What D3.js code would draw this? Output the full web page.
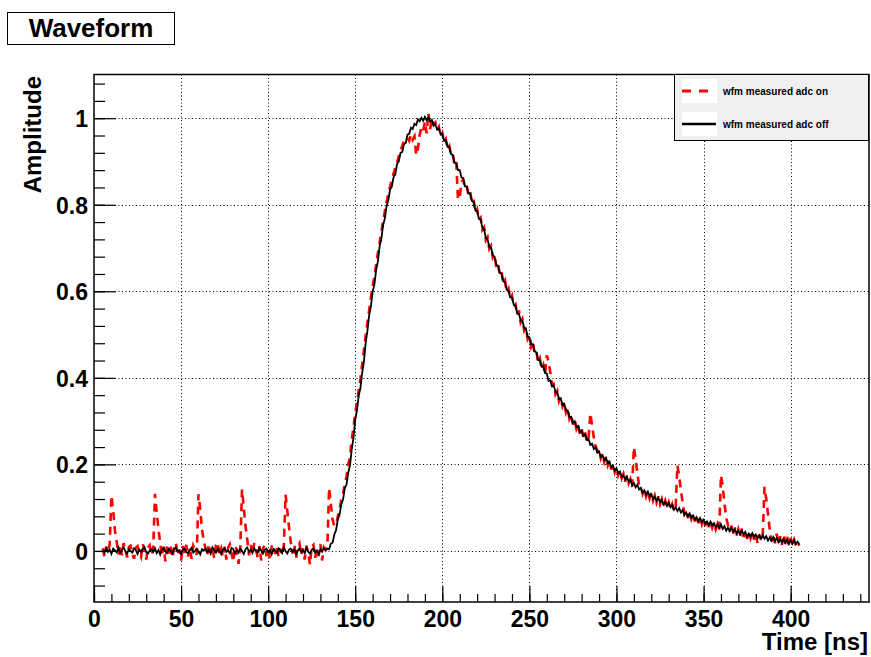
<!DOCTYPE html>
<html>
<head>
<meta charset="utf-8">
<script src="https://cdn.jsdelivr.net/npm/d3@7"></script>
<style>
  body { margin: 0; background: #fff; }
  text { font-family: "Liberation Sans", Arial, Helvetica, sans-serif; font-weight: bold; }
</style>
</head>
<body>
<div id="chart"></div>
<script>
// waveform samples, 1 ns apart, first sample at 5 ns
var sampleStart = 5;
var sampleStep = 1;

// "wfm measured adc off" (black)
var adcOff = [
  0.002, -0.004, 0.006, -0.002, 0.003, -0.007, 0.005, 0.001, -0.003, 0.007,   // 5
  -0.005, 0.002, 0.008, -0.001, -0.006, 0.004, 0.000, -0.004, 0.006, 0.002,   // 15
  -0.007, 0.003, -0.002, 0.005, 0.009, -0.003, -0.006, 0.001, 0.004, -0.002,  // 25
  0.006, -0.005, 0.002, -0.008, 0.003, 0.007, -0.001, -0.004, 0.005, 0.000,   // 35
  -0.006, 0.004, 0.008, -0.002, 0.001, -0.007, 0.003, 0.006, -0.003, -0.005,  // 45
  0.002, 0.007, -0.004, 0.000, 0.005, -0.002, -0.008, 0.004, 0.001, 0.006,    // 55
  -0.003, 0.003, -0.006, 0.008, 0.002, -0.004, 0.005, -0.001, -0.007, 0.003,  // 65
  0.006, -0.002, 0.001, -0.005, 0.007, 0.004, -0.006, 0.002, -0.003, 0.005,   // 75
  0.000, -0.007, 0.004, 0.008, -0.002, 0.003, -0.005, 0.006, -0.001, -0.004,  // 85
  0.007, 0.001, -0.006, 0.003, 0.005, -0.003, 0.002, -0.008, 0.004, 0.000,    // 95
  -0.004, 0.006, 0.002, -0.005, 0.008, -0.001, -0.006, 0.003, 0.005, -0.002,  // 105
  0.004, -0.007, 0.001, 0.006, -0.003, 0.002, -0.005, 0.007, -0.002, -0.006,  // 115
  0.003, 0.005, -0.004, 0.001, -0.007, 0.004, -0.002, 0.006, 0.002,           // 125
  0.005, 0.004, 0.017, 0.019, 0.038, 0.048, 0.073, 0.084, 0.108, 0.119,      // 134
  0.145, 0.154, 0.181, 0.198, 0.236, 0.261, 0.303, 0.325, 0.359, 0.377,      // 144
  0.412, 0.438, 0.481, 0.509, 0.545, 0.565, 0.599, 0.616, 0.649, 0.669,      // 154
  0.704, 0.721, 0.753, 0.768, 0.797, 0.811, 0.835, 0.842, 0.864, 0.870,      // 164
  0.894, 0.900, 0.920, 0.922, 0.940, 0.943, 0.962, 0.964, 0.978, 0.975,      // 174
  0.987, 0.984, 0.997, 0.993, 1.001, 0.994, 1.003, 0.995, 1.002, 0.992,      // 184
  0.996, 0.983, 0.986, 0.974, 0.977, 0.963, 0.964, 0.948, 0.949, 0.934,      // 194
  0.934, 0.917, 0.915, 0.897, 0.896, 0.880, 0.880, 0.863, 0.861, 0.843,      // 204
  0.842, 0.826, 0.826, 0.809, 0.806, 0.787, 0.785, 0.768, 0.766, 0.747,      // 214
  0.743, 0.723, 0.720, 0.702, 0.701, 0.683, 0.680, 0.661, 0.659, 0.642,      // 224
  0.641, 0.623, 0.621, 0.603, 0.602, 0.586, 0.586, 0.569, 0.567, 0.549,      // 234
  0.548, 0.532, 0.532, 0.515, 0.513, 0.495, 0.494, 0.478, 0.478, 0.461,      // 244
  0.459, 0.441, 0.441, 0.426, 0.427, 0.411, 0.410, 0.393, 0.394, 0.380,      // 254
  0.382, 0.367, 0.367, 0.351, 0.352, 0.338, 0.340, 0.325, 0.325, 0.309,      // 264
  0.310, 0.296, 0.300, 0.287, 0.289, 0.275, 0.278, 0.266, 0.270, 0.257,      // 274
  0.259, 0.245, 0.248, 0.236, 0.240, 0.227, 0.230, 0.217, 0.221, 0.210,      // 284
  0.215, 0.203, 0.206, 0.193, 0.197, 0.186, 0.191, 0.179, 0.183, 0.171,      // 294
  0.175, 0.165, 0.171, 0.160, 0.164, 0.152, 0.157, 0.147, 0.153, 0.142,      // 304
  0.146, 0.135, 0.140, 0.130, 0.137, 0.126, 0.131, 0.120, 0.125, 0.116,      // 314
  0.123, 0.113, 0.118, 0.107, 0.113, 0.104, 0.111, 0.101, 0.106, 0.095,      // 324
  0.101, 0.092, 0.099, 0.089, 0.094, 0.083, 0.089, 0.080, 0.087, 0.077,      // 334
  0.082, 0.072, 0.078, 0.069, 0.076, 0.067, 0.072, 0.062, 0.068, 0.060,      // 344
  0.068, 0.059, 0.064, 0.054, 0.061, 0.053, 0.061, 0.051, 0.057, 0.047,      // 354
  0.054, 0.046, 0.054, 0.044, 0.050, 0.040, 0.047, 0.039, 0.047, 0.038,      // 364
  0.044, 0.033, 0.040, 0.033, 0.041, 0.032, 0.038, 0.029, 0.036, 0.028,      // 374
  0.036, 0.028, 0.034, 0.024, 0.031, 0.024, 0.032, 0.023, 0.030, 0.020,      // 384
  0.027, 0.020, 0.028, 0.019, 0.026, 0.016, 0.024, 0.016, 0.025, 0.016,      // 394
  0.021, 0.015                                                                // 404
];

// "wfm measured adc on" (red dashed)
var adcOn = [
  0.006, -0.012, 0.010, -0.004, 0.015, 0.128, 0.094, 0.048, 0.022, -0.008,   // 5
  0.014, -0.010, 0.018, 0.003, -0.015, 0.009, 0.012, -0.006, -0.018, 0.007,  // 15
  0.011, -0.004, -0.014, 0.016, 0.002, -0.020, 0.008, 0.013, -0.009, 0.004,  // 25
  0.132, 0.088, 0.052, 0.018, -0.012, 0.010, -0.024, 0.015, -0.006, 0.012,  // 35
  -0.016, 0.006, 0.019, -0.010, 0.003, -0.022, 0.011, -0.005, 0.014, -0.013, // 45
  0.008, -0.018, 0.012, 0.002, -0.009, 0.131, 0.096, 0.050, 0.024, 0.006,   // 55
  -0.011, 0.016, -0.004, 0.009, -0.017, 0.013, 0.020, -0.008, 0.005, -0.014, // 65
  0.010, -0.020, 0.007, 0.015, -0.006, -0.025, 0.012, 0.003, -0.030, 0.009,  // 75
  0.142, 0.100, 0.058, 0.026, -0.010, 0.014, -0.008, 0.018, 0.004, -0.016,   // 85
  0.011, -0.022, 0.006, 0.013, -0.012, 0.004, -0.018, 0.010, 0.016, -0.007,  // 95
  0.009, -0.014, 0.005, -0.009, 0.012, 0.130, 0.092, 0.054, 0.020, -0.006,   // 105
  0.015, -0.018, 0.008, 0.017, -0.010, 0.006, -0.020, 0.012, -0.004, -0.032, // 115
  0.010, 0.014, -0.016, 0.004, -0.012, 0.016, -0.022, 0.008, 0.002,          // 125
  0.010, 0.146, 0.108, 0.072, 0.058, 0.062, 0.080, 0.095, 0.118, 0.132,      // 134
  0.155, 0.172, 0.200, 0.218, 0.258, 0.285, 0.318, 0.342, 0.372, 0.398,      // 144
  0.432, 0.465, 0.497, 0.528, 0.556, 0.586, 0.612, 0.634, 0.662, 0.688,      // 154
  0.712, 0.738, 0.763, 0.785, 0.806, 0.825, 0.842, 0.858, 0.872, 0.885,      // 164
  0.898, 0.911, 0.928, 0.935, 0.948, 0.952, 0.955, 0.948, 0.962, 0.950,      // 174
  0.958, 0.915, 0.930, 0.962, 0.978, 0.970, 0.992, 0.965, 1.012, 0.975,      // 184
  0.998, 0.985, 0.990, 0.972, 0.980, 0.958, 0.966, 0.945, 0.952, 0.930,      // 194
  0.936, 0.915, 0.918, 0.892, 0.900, 0.812, 0.818, 0.852, 0.858, 0.840,      // 204
  0.845, 0.822, 0.830, 0.805, 0.812, 0.782, 0.790, 0.765, 0.770, 0.742,      // 214
  0.748, 0.718, 0.725, 0.698, 0.705, 0.678, 0.685, 0.655, 0.664, 0.638,      // 224
  0.645, 0.618, 0.625, 0.598, 0.606, 0.582, 0.590, 0.565, 0.570, 0.545,      // 234
  0.556, 0.528, 0.536, 0.510, 0.518, 0.490, 0.498, 0.472, 0.482, 0.456,      // 244
  0.462, 0.436, 0.445, 0.420, 0.430, 0.408, 0.452, 0.438, 0.412, 0.384,      // 254
  0.386, 0.362, 0.370, 0.346, 0.356, 0.334, 0.344, 0.320, 0.330, 0.305,      // 264
  0.314, 0.292, 0.304, 0.282, 0.292, 0.270, 0.282, 0.262, 0.274, 0.252,      // 274
  0.262, 0.318, 0.290, 0.262, 0.242, 0.232, 0.234, 0.214, 0.225, 0.206,      // 284
  0.218, 0.198, 0.210, 0.188, 0.200, 0.182, 0.194, 0.175, 0.186, 0.168,      // 294
  0.178, 0.160, 0.174, 0.156, 0.166, 0.148, 0.240, 0.212, 0.180, 0.150,      // 304
  0.148, 0.132, 0.143, 0.126, 0.139, 0.122, 0.134, 0.116, 0.128, 0.112,      // 314
  0.126, 0.108, 0.120, 0.104, 0.116, 0.100, 0.112, 0.096, 0.108, 0.092,      // 324
  0.104, 0.198, 0.172, 0.140, 0.112, 0.086, 0.094, 0.076, 0.090, 0.074,      // 334
  0.086, 0.068, 0.082, 0.064, 0.078, 0.062, 0.076, 0.058, 0.072, 0.055,      // 344
  0.070, 0.054, 0.066, 0.050, 0.062, 0.048, 0.175, 0.150, 0.110, 0.078,      // 354
  0.060, 0.044, 0.058, 0.040, 0.054, 0.036, 0.050, 0.034, 0.052, 0.032,      // 364
  0.048, 0.028, 0.044, 0.030, 0.046, 0.026, 0.040, 0.018, 0.038, 0.024,      // 374
  0.040, 0.148, 0.120, 0.085, 0.050, 0.022, 0.036, 0.018, 0.040, 0.016,      // 384
  0.034, 0.014, 0.038, 0.016, 0.032, 0.012, 0.030, 0.014, 0.026, 0.012,      // 394
  0.020, 0.012                                                                // 404
];

var xTicks = [0, 50, 100, 150, 200, 250, 300, 350, 400];
var yTicks = [0, 0.2, 0.4, 0.6, 0.8, 1];
var yTickLabels = ["0", "0.2", "0.4", "0.6", "0.8", "1"];
var legendNames = ["wfm measured adc on", "wfm measured adc off"];

var W = 871, H = 657;
var frameL = 94, frameR = 869, frameT = 74.5, frameB = 602;

var svg = d3.select("#chart").append("svg")
  .attr("width", W)
  .attr("height", H);

svg.append("rect").attr("width", W).attr("height", H).attr("fill", "#fff");

var x = d3.scaleLinear().domain([0, 445]).range([frameL, frameR]);
var y = d3.scaleLinear().domain([-0.118, 1.101]).range([frameB, frameT]);

// grid (dotted, at major ticks)
var grid = svg.append("g").attr("stroke", "#000").attr("stroke-width", 1)
  .attr("stroke-dasharray", "1,2.5");
grid.selectAll(".gx").data(xTicks.slice(1)).enter().append("line")
  .attr("x1", function (d) { return Math.round(x(d)) + 0.5; })
  .attr("x2", function (d) { return Math.round(x(d)) + 0.5; })
  .attr("y1", frameT).attr("y2", frameB);
grid.selectAll(".gy").data(yTicks).enter().append("line")
  .attr("y1", function (d) { return Math.round(y(d)) + 0.5; })
  .attr("y2", function (d) { return Math.round(y(d)) + 0.5; })
  .attr("x1", frameL).attr("x2", frameR);

// waveforms
var line = d3.line()
  .x(function (d, i) { return x(sampleStart + i * sampleStep); })
  .y(function (d) { return y(d); });

svg.append("path")
  .datum(adcOn)
  .attr("d", line)
  .attr("fill", "none")
  .attr("stroke", "#ff0000")
  .attr("stroke-width", 2.6)
  .attr("stroke-dasharray", "8,6");

svg.append("path")
  .datum(adcOff)
  .attr("d", line)
  .attr("fill", "none")
  .attr("stroke", "#000")
  .attr("stroke-width", 1.8);

// x axis: minor + major ticks drawn inside the frame
var minorX = d3.range(0, 441, 10);
svg.append("g")
  .attr("transform", "translate(0," + frameB + ")")
  .call(d3.axisBottom(x).tickValues(minorX).tickSize(-8).tickFormat(""))
  .call(function (g) { g.select(".domain").remove(); });

var xAxis = svg.append("g")
  .attr("transform", "translate(0," + frameB + ")")
  .call(d3.axisBottom(x).tickValues(xTicks).tickSize(-16).tickFormat(d3.format("d")));
xAxis.select(".domain").remove();
xAxis.selectAll("text")
  .attr("y", 25).attr("dy", 0)
  .style("font-size", "23px")
  .attr("fill", "#000");

// y axis
var minorY = d3.range(-0.08, 1.09, 0.04);
svg.append("g")
  .attr("transform", "translate(" + frameL + ",0)")
  .call(d3.axisLeft(y).tickValues(minorY).tickSize(-11).tickFormat(""))
  .call(function (g) { g.select(".domain").remove(); });

var yAxis = svg.append("g")
  .attr("transform", "translate(" + frameL + ",0)")
  .call(d3.axisLeft(y).tickValues(yTicks).tickSize(-22)
    .tickFormat(function (d, i) { return yTickLabels[i]; }));
yAxis.select(".domain").remove();
yAxis.selectAll("text")
  .attr("x", -6).attr("dy", "0.36em")
  .style("font-size", "23px")
  .attr("fill", "#000");

svg.selectAll(".tick line").attr("stroke-width", 1.2);

// frame
svg.append("rect")
  .attr("x", frameL).attr("y", frameT)
  .attr("width", frameR - frameL).attr("height", frameB - frameT)
  .attr("fill", "none")
  .attr("stroke", "#000")
  .attr("stroke-width", 1.5);

// axis titles
svg.append("text")
  .attr("x", frameR - 1).attr("y", 650)
  .attr("text-anchor", "end")
  .style("font-size", "24px")
  .text("Time [ns]");

svg.append("text")
  .attr("transform", "translate(41,76) rotate(-90)")
  .attr("text-anchor", "end")
  .style("font-size", "24px")
  .text("Amplitude");

// title box
svg.append("rect")
  .attr("x", 7.5).attr("y", 12.5).attr("width", 167).attr("height", 32)
  .attr("fill", "#fff").attr("stroke", "#000").attr("stroke-width", 1);
svg.append("text")
  .attr("x", 91).attr("y", 37)
  .attr("text-anchor", "middle")
  .style("font-size", "26px")
  .text("Waveform");

// legend
var lg = svg.append("g");
lg.append("rect")
  .attr("x", 674.5).attr("y", 74.5).attr("width", 194).attr("height", 66)
  .attr("fill", "#f0f0f0").attr("stroke", "#000").attr("stroke-width", 1);

var entries = lg.selectAll(".entry").data(legendNames).enter().append("g")
  .attr("transform", function (d, i) { return "translate(0," + (i * 33) + ")"; });
entries.append("rect")
  .attr("x", 682).attr("y", 79).attr("width", 35).attr("height", 24)
  .attr("fill", "#fff");
entries.append("line")
  .attr("x1", 682).attr("x2", 716).attr("y1", 91).attr("y2", 91)
  .attr("stroke", function (d, i) { return i === 0 ? "#ff0000" : "#000"; })
  .attr("stroke-width", function (d, i) { return i === 0 ? 3 : 2.5; })
  .attr("stroke-dasharray", function (d, i) { return i === 0 ? "9,8" : null; });
entries.append("text")
  .attr("x", 723).attr("y", 94.5)
  .style("font-size", "10px")
  .text(function (d) { return d; });
</script>
</body>
</html>
